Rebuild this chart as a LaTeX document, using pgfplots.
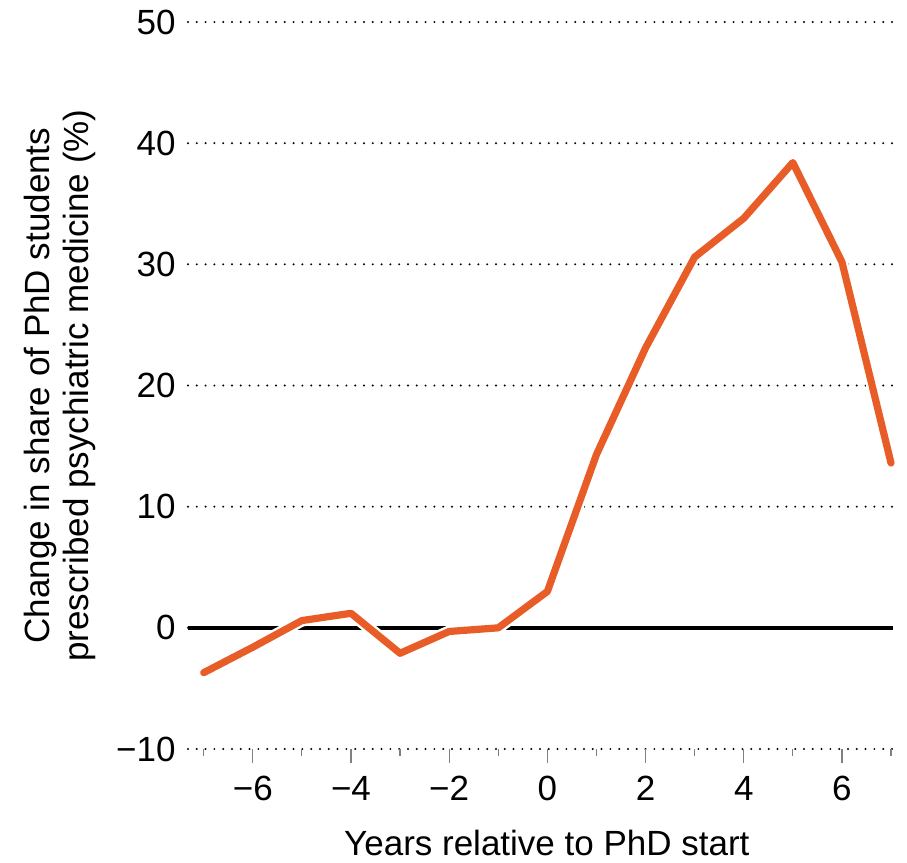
\documentclass[border=0pt]{standalone}
\usepackage{pgfplots}
\pgfplotsset{compat=1.18}
\usepackage{fontspec}
\setmainfont{Liberation Sans}
\definecolor{lineorange}{HTML}{E85D27}
\begin{document}
\begin{tikzpicture}
\useasboundingbox (-94pt,-57pt) rectangle (359.5pt,374.5pt);
\begin{axis}[
  at={(0,0)}, anchor=south west,
  scale only axis, width=352.5pt, height=363.5pt,
  xmin=-7.32, xmax=7.04, ymin=-10, ymax=50,
  axis line style={draw=none},
  xtick={-6,-4,...,6},
  xticklabels={−6,−4,−2,0,2,4,6},
  minor xtick={-7,-5,...,7},
  ytick={-10,0,...,50},
  yticklabels={−10,0,10,20,30,40,50},
  ymajorgrids, xmajorgrids=false,
  grid style={black, line width=1.1pt, dash pattern=on 0pt off 4.4pt, line cap=round},
  xtick pos=bottom, ytick pos=left,
  ytick style={draw=none},
  tick align=outside,
  xtick style={black!50, line width=0.6pt},
  minor x tick style={black!50, line width=0.6pt},
  major tick length=7pt, minor tick length=3.5pt,
  ticklabel style={font=\fontsize{17.5}{20}\selectfont, inner sep=0pt},
  yticklabel style={anchor=east, xshift=1pt},
  xticklabel style={anchor=north, yshift=-6.5pt},
  xlabel={Years relative to PhD start},
  xlabel style={font=\fontsize{17.5}{20}\selectfont, inner sep=0pt, at={(axis description cs:0.509,0)}, anchor=north, yshift=-40.5pt},
  ylabel={Change in share of PhD students\\prescribed psychiatric medicine (\%)},
  ylabel style={font=\fontsize{17.5}{19.5}\selectfont, align=center, inner sep=0pt, at={(axis description cs:-0.13,0.5)}, anchor=south},
  clip=false,
]
\addplot[black, line width=2.2pt, forget plot] coordinates {(-7.32,0) (7.04,0)};
\addplot[white, line width=6pt, line cap=round, line join=round, forget plot] table {
x y
-7 -3.7
-6 -1.6
-5 0.6
-4 1.2
-3 -2.1
-2 -0.3
-1 0.0
0 3.0
1 14.3
2 23.1
3 30.6
4 33.8
5 38.4
6 30.2
7 13.6
};
\addplot[lineorange, line width=3.6pt, line cap=round, line join=round] table {
x y
-7 -3.7
-6 -1.6
-5 0.6
-4 1.2
-3 -2.1
-2 -0.3
-1 0.0
0 3.0
1 14.3
2 23.1
3 30.6
4 33.8
5 38.4
6 30.2
7 13.6
};
\end{axis}
\end{tikzpicture}
\end{document}
